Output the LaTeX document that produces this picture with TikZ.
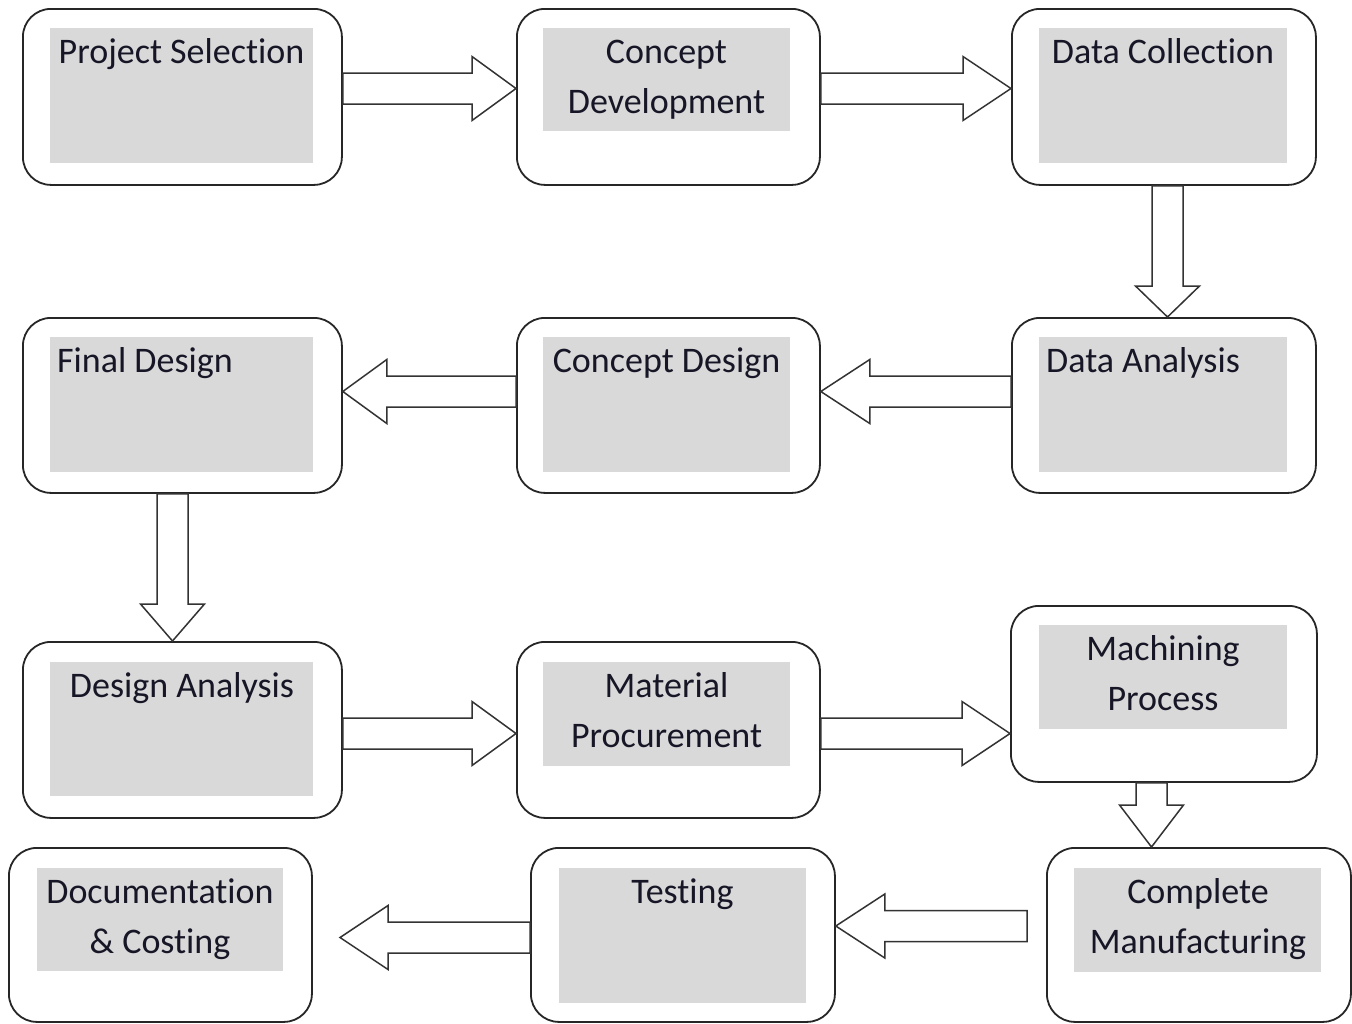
\documentclass[tikz,border=0pt]{standalone}
\usepackage{fontspec}
\setmainfont{Carlito}[Ligatures=NoCommon]
\usetikzlibrary{calc}
\definecolor{boxgray}{HTML}{D9D9D9}
\definecolor{txtcol}{RGB}{22,22,38}
\newcommand\twol[1]{\begin{tabular}[t]{@{}c@{}}#1\end{tabular}}
\newcommand\barrow[3]{%
  \coordinate (bA) at (#1);
  \coordinate (bB) at (#2);
  \coordinate (bH) at ($(bB)!#3pt!(bA)$);
  \draw[barr] ($(bA)!15.5pt!90:(bB)$) -- ($(bH)!15.5pt!90:(bB)$) -- ($(bH)!32pt!90:(bB)$) -- (bB)
     -- ($(bH)!32pt!-90:(bB)$) -- ($(bH)!15.5pt!-90:(bB)$) -- ($(bA)!15.5pt!-90:(bB)$) -- cycle;
}
\tikzset{
  outerbox/.style={draw=black!85, line width=1.8pt, rounded corners=28pt, fill=white, anchor=north west, inner sep=0pt},
  graybox/.style={fill=boxgray, draw=none, anchor=north west, inner sep=0pt},
  txt/.style={font=\fontsize{36}{50}\selectfont, text=txtcol, inner sep=0pt},
  barr/.style={draw=black!80, line width=1.5pt, fill=white, line join=miter},
}
\begin{document}
\begin{tikzpicture}[x=1pt,y=-1pt]
\fill[white] (0,0) rectangle (1352,1023);
\useasboundingbox (0,0) rectangle (1352,1023);
% outer boxes
\node[outerbox, minimum width=319pt, minimum height=176pt] (ps) at (22,8) {};
\node[outerbox, minimum width=303pt, minimum height=176pt] (cd) at (516,8) {};
\node[outerbox, minimum width=304pt, minimum height=176pt] (dc) at (1011,8) {};
\node[outerbox, minimum width=319pt, minimum height=175pt] (fd) at (22,317) {};
\node[outerbox, minimum width=303pt, minimum height=175pt] (cdes) at (516,317) {};
\node[outerbox, minimum width=304pt, minimum height=175pt] (da) at (1011,317) {};
\node[outerbox, minimum width=319pt, minimum height=176pt] (desa) at (22,641) {};
\node[outerbox, minimum width=303pt, minimum height=176pt] (mat) at (516,641) {};
\node[outerbox, minimum width=306pt, minimum height=176pt] (mach) at (1010,605) {};
\node[outerbox, minimum width=303pt, minimum height=174pt] (doc) at (8,847) {};
\node[outerbox, minimum width=304pt, minimum height=174pt] (test) at (530,847) {};
\node[outerbox, minimum width=304pt, minimum height=174pt] (comp) at (1046,847) {};
% gray boxes
\node[graybox, minimum width=263pt, minimum height=135pt] (psg) at (50,28) {};
\node[graybox, minimum width=247pt, minimum height=103pt] (cdg) at (543,28) {};
\node[graybox, minimum width=248pt, minimum height=135pt] (dcg) at (1039,28) {};
\node[graybox, minimum width=263pt, minimum height=135pt] (fdg) at (50,337) {};
\node[graybox, minimum width=247pt, minimum height=135pt] (cdesg) at (543,337) {};
\node[graybox, minimum width=248pt, minimum height=135pt] (dag) at (1039,337) {};
\node[graybox, minimum width=263pt, minimum height=134pt] (desag) at (50,662) {};
\node[graybox, minimum width=247pt, minimum height=104pt] (matg) at (543,662) {};
\node[graybox, minimum width=248pt, minimum height=104pt] (machg) at (1039,625) {};
\node[graybox, minimum width=246pt, minimum height=103pt] (docg) at (37,868) {};
\node[graybox, minimum width=247pt, minimum height=135pt] (testg) at (559,868) {};
\node[graybox, minimum width=247pt, minimum height=104pt] (compg) at (1074,868) {};
% texts
\node[txt, anchor=base] (pst) at (181.5,63.5) {Project Selection};
\node[txt, anchor=base] (cdt) at (666.5,63.5) {\twol{Concept\\Development}};
\node[txt, anchor=base] (dct) at (1163,63.5) {Data Collection};
\node[txt, anchor=base west] (fdt) at (57,372.5) {Final Design};
\node[txt, anchor=base] (cdest) at (666.5,372.5) {Concept Design};
\node[txt, anchor=base west] (dat) at (1046,372.5) {Data Analysis};
\node[txt, anchor=base] (desat) at (182,697.5) {Design Analysis};
\node[txt, anchor=base] (matt) at (666.5,697.5) {\twol{Material\\Procurement}};
\node[txt, anchor=base] (macht) at (1163,660.5) {\twol{Machining\\Process}};
\node[txt, anchor=base] (doct) at (160,903.5) {\twol{Documentation\\\& Costing}};
\node[txt, anchor=base] (testt) at (682.5,903.5) {Testing};
\node[txt, anchor=base] (compt) at (1198,903.5) {\twol{Complete\\Manufacturing}};
% helper coordinates for arrow axes
\coordinate (r1) at (0,88.5);
\coordinate (r2) at (0,391.5);
\coordinate (r3) at (0,733.5);
\coordinate (r4) at (0,926);
\coordinate (r5) at (0,937.5);
\coordinate (c1) at (1167.5,0);
\coordinate (c2) at (172.5,0);
\coordinate (c3) at (1151.5,0);
\coordinate (t10) at (1027,926);
\coordinate (h11) at (340,937.5);
% arrows
\barrow{ps.east |- r1}{cd.west |- r1}{44}
\barrow{cd.east |- r1}{dc.west |- r1}{48}
\barrow{dc.south -| c1}{da.north -| c1}{31}
\barrow{da.west |- r2}{cdes.east |- r2}{49}
\barrow{cdes.west |- r2}{fd.east |- r2}{44}
\barrow{fd.south -| c2}{desa.north -| c2}{37}
\barrow{desa.east |- r3}{mat.west |- r3}{44}
\barrow{mat.east |- r3}{mach.west |- r3}{48}
\barrow{mach.south -| c3}{comp.north -| c3}{42}
\barrow{t10}{test.east |- r4}{49}
\barrow{test.west |- r5}{h11}{48}
\end{tikzpicture}
\end{document}
